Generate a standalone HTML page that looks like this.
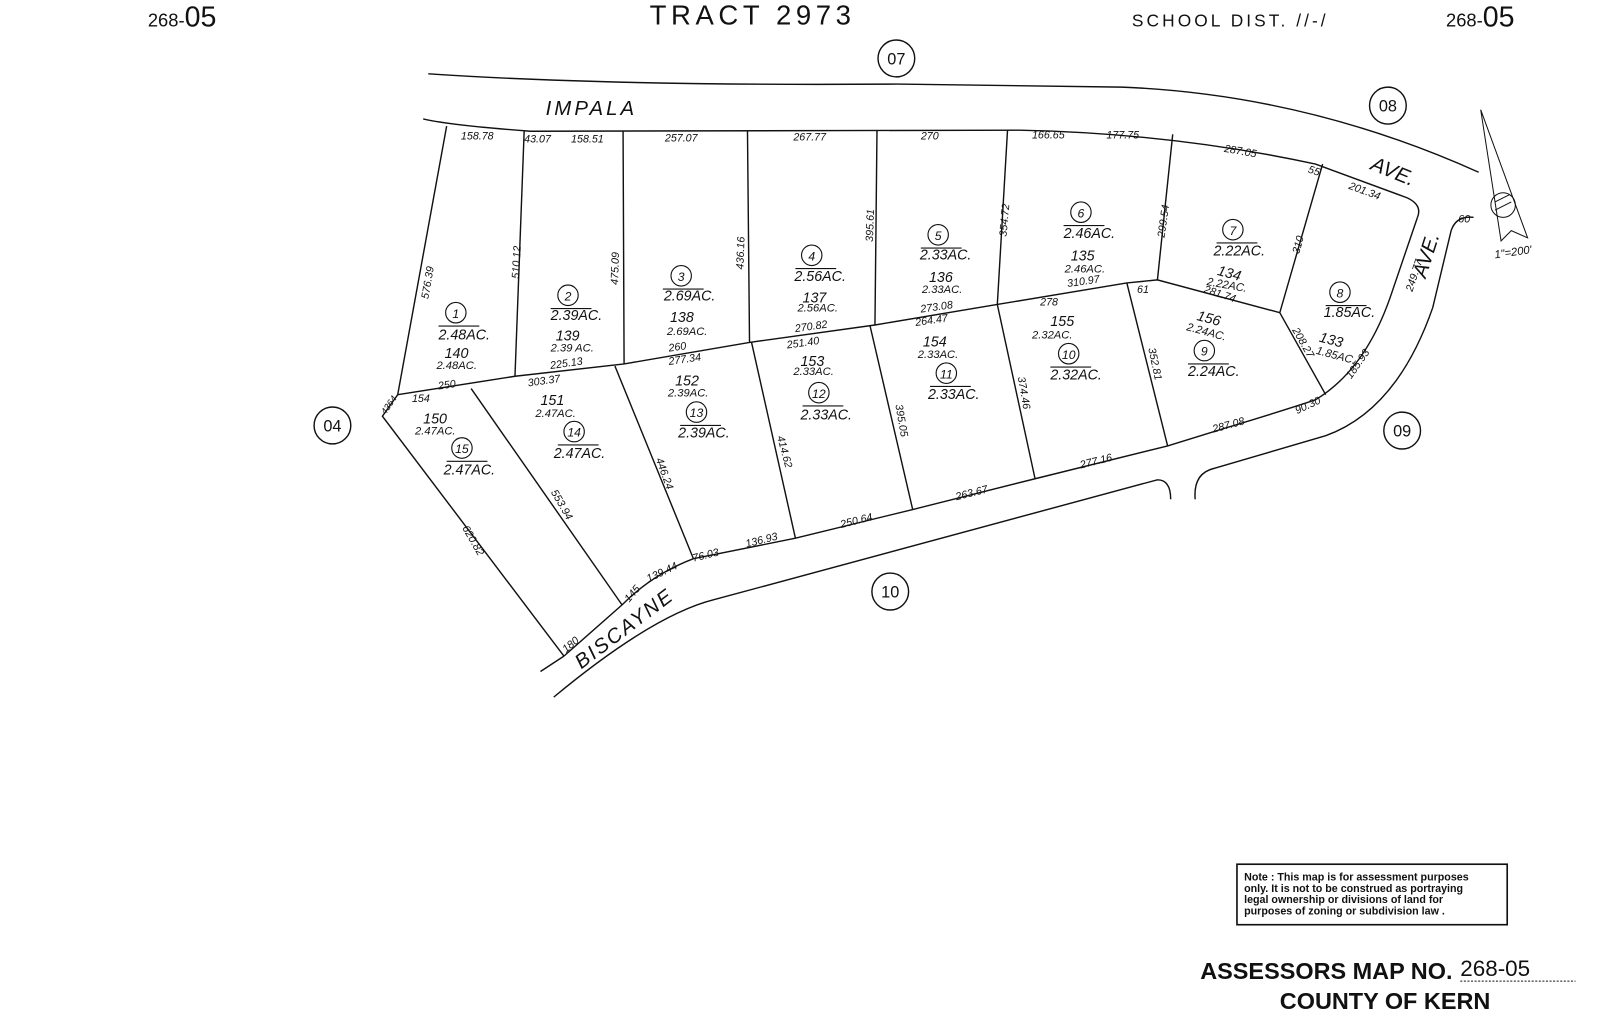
<!DOCTYPE html>
<html><head><meta charset="utf-8"><style>
html,body{margin:0;padding:0;background:#fff}
svg{display:block}
text{font-family:"Liberation Sans",sans-serif;fill:#111}
.d{font-size:10.5px;font-style:italic}
.a{font-size:14px;font-style:italic}
.n{font-size:14px;font-style:italic}
.s{font-size:12px}
</style></head><body>
<svg width="1600" height="1018" viewBox="0 0 1569 993" preserveAspectRatio="none" xmlns="http://www.w3.org/2000/svg">
<g fill="none" stroke="#111" stroke-width="1.4">
<path d="M420,72 Q600,84 880,82 L1100,85 Q1280,92 1450,168"/>
<path d="M415,116 Q440,122 520,128 L1000,127 Q1150,130 1290,160 L1380,193 Q1395,200 1390,212"/>
<path d="M1390,212 L1365,285 Q1340,360 1290,390 Q1260,400 1200,418 L1145,435 L1015,467 L895,497 L780,525 L680,545 Q640,560 610,590 L553,640"/>
<path d="M543,680 Q640,600 700,585 L1135,468 Q1148,468 1148,487"/>
<path d="M1172,487 Q1170,462 1190,457 L1300,425 Q1370,400 1405,300 L1423,225 Q1428,210 1445,212"/>
<path d="M530,655 L553,640"/>
<path d="M438,123 L390,385 L375,406 L553,640"/>
<path d="M390,385 L505,367 L612,355 L735,334 L858,317 L978,297 L1105,276 L1135,273 L1255,305 L1297,160"/>
<path d="M514,128 L505,367 M611,128 L612,355 M733,128 L735,334 M860,127 L858,317 M988,127 L978,297 M1150,131 L1135,273"/>
<path d="M462,379 L610,590 M603,357 L680,545 M737,334 L780,525 M853,317 L895,497 M978,297 L1015,467 M1105,276 L1145,435 M1255,305 L1300,385"/>
<circle cx="879" cy="57" r="18"/><circle cx="1361" cy="103" r="18"/>
<circle cx="326" cy="415" r="18"/><circle cx="1375" cy="420" r="18"/>
<circle cx="873" cy="577" r="18"/>
<g stroke-width="1.1">
<circle cx="447" cy="305" r="10"/><circle cx="557" cy="288" r="10"/><circle cx="668" cy="269" r="10"/>
<circle cx="796" cy="249" r="10"/><circle cx="920" cy="229" r="10"/><circle cx="1060" cy="207" r="10"/>
<circle cx="1209" cy="224" r="10"/><circle cx="1314" cy="285" r="10"/><circle cx="1181" cy="342" r="10"/>
<circle cx="1048" cy="345" r="10"/><circle cx="928" cy="364" r="10"/><circle cx="803" cy="383" r="10"/>
<circle cx="683" cy="402" r="10"/><circle cx="563" cy="421" r="10"/><circle cx="453" cy="437" r="10"/>
<path d="M430,318h40M540,301h40M650,282h40M780,262h40M903,242h40M1043,220h40M1193,237h40M1300,298h40M1165,355h40M1030,358h40M912,377h40M787,396h40M667,415h40M547,434h40M438,450h40"/>
</g>
<path d="M1452,107 L1498,232 L1482,225 L1472,235 Z M1452,107 L1472,235" stroke-width="1"/>
<circle cx="1474" cy="200" r="12" stroke-width="1"/>
<path d="M1466,197 L1480,190 M1466,205 L1482,197" stroke-width="1"/>
<rect x="1213" y="843" width="265" height="59" stroke-width="1.6"/>
<path d="M1432,957 L1545,957" stroke-dasharray="2,1.5" stroke-width="1"/>
</g>
<text x="145" y="26" font-size="18">268-<tspan font-size="28">05</tspan></text>
<text x="637" y="24" font-size="27" letter-spacing="4.5">TRACT 2973</text>
<text x="1110" y="26" font-size="17" letter-spacing="3">SCHOOL DIST. //-/</text>
<text x="1418" y="26" font-size="18">268-<tspan font-size="28">05</tspan></text>
<g font-size="16" text-anchor="middle">
<text x="879" y="63">07</text><text x="1361" y="109">08</text><text x="326" y="421">04</text>
<text x="1375" y="426">09</text><text x="873" y="583">10</text>
</g>
<text x="535" y="112" font-size="20" font-style="italic" letter-spacing="3">IMPALA</text>
<text x="1343" y="165" font-size="20" font-style="italic" transform="rotate(22 1343 165)">AVE.</text>
<text x="1398" y="272" font-size="20" font-style="italic" transform="rotate(-72 1398 272)">AVE.</text>
<text x="570" y="653" font-size="20" font-style="italic" letter-spacing="2" transform="rotate(-37 570 653)">BISCAYNE</text>
<g class="s" text-anchor="middle" font-style="italic">
<text x="447" y="310">1</text><text x="557" y="293">2</text><text x="668" y="274">3</text>
<text x="796" y="254">4</text><text x="920" y="234">5</text><text x="1060" y="212">6</text>
<text x="1209" y="229">7</text><text x="1314" y="290">8</text><text x="1181" y="347">9</text>
<text x="1048" y="350">10</text><text x="928" y="369">11</text><text x="803" y="388">12</text>
<text x="683" y="407">13</text><text x="563" y="426">14</text><text x="453" y="442">15</text>
</g>
<g class="a">
<text x="430" y="331">2.48AC.</text><text x="436" y="349">140</text><text x="428" y="360" font-size="11">2.48AC.</text>
<text x="540" y="312">2.39AC.</text><text x="545" y="332">139</text><text x="540" y="343" font-size="11">2.39 AC.</text>
<text x="651" y="293">2.69AC.</text><text x="657" y="314">138</text><text x="654" y="327" font-size="11">2.69AC.</text>
<text x="779" y="274">2.56AC.</text><text x="787" y="295">137</text><text x="782" y="304" font-size="11">2.56AC.</text>
<text x="902" y="253">2.33AC.</text><text x="911" y="275">136</text><text x="904" y="286" font-size="11">2.33AC.</text>
<text x="1043" y="232">2.46AC.</text><text x="1050" y="254">135</text><text x="1044" y="266" font-size="11">2.46AC.</text>
<text x="1190" y="249">2.22AC.</text><text x="1193" y="268" transform="rotate(15 1193 268)">134</text><text x="1183" y="278" font-size="11" transform="rotate(10 1183 278)">2.22AC.</text>
<text x="1298" y="309">1.85AC.</text><text x="1293" y="333" transform="rotate(15 1293 333)">133</text><text x="1290" y="345" font-size="11" transform="rotate(15 1290 345)">1.85AC.</text>
<text x="1173" y="312" transform="rotate(15 1173 312)">156</text><text x="1163" y="322" font-size="11" transform="rotate(15 1163 322)">2.24AC.</text><text x="1165" y="367">2.24AC.</text>
<text x="1030" y="318">155</text><text x="1012" y="330" font-size="11">2.32AC.</text><text x="1030" y="370">2.32AC.</text>
<text x="905" y="338">154</text><text x="900" y="349" font-size="11">2.33AC.</text><text x="910" y="389">2.33AC.</text>
<text x="785" y="357">153</text><text x="778" y="366" font-size="11">2.33AC.</text><text x="785" y="409">2.33AC.</text>
<text x="662" y="376">152</text><text x="655" y="387" font-size="11">2.39AC.</text><text x="665" y="427">2.39AC.</text>
<text x="530" y="395">151</text><text x="525" y="407" font-size="11">2.47AC.</text><text x="543" y="447">2.47AC.</text>
<text x="415" y="413">150</text><text x="407" y="424" font-size="11">2.47AC.</text><text x="435" y="463">2.47AC.</text>
</g>
<g class="d">
<text x="452" y="136">158.78</text><text x="514" y="139">43.07</text><text x="560" y="139">158.51</text>
<text x="652" y="138">257.07</text><text x="778" y="137">267.77</text><text x="903" y="136">270</text>
<text x="1012" y="135">166.65</text><text x="1085" y="135">177.75</text>
<text x="1200" y="148" transform="rotate(10 1200 148)">287.05</text><text x="1282" y="168" transform="rotate(18 1282 168)">55</text>
<text x="1322" y="184" transform="rotate(20 1322 184)">201.34</text><text x="1430" y="217">60</text>
<text x="1385" y="285" transform="rotate(-72 1385 285)">249.77</text>
<text x="420" y="292" transform="rotate(-80 420 292)">576.39</text>
<text x="509" y="272" transform="rotate(-87 509 272)">510.12</text>
<text x="606" y="278" transform="rotate(-88 606 278)">475.09</text>
<text x="729" y="263" transform="rotate(-88 729 263)">436.16</text>
<text x="856" y="236" transform="rotate(-88 856 236)">395.61</text>
<text x="987" y="231" transform="rotate(-85 987 231)">354.72</text>
<text x="1142" y="232" transform="rotate(-82 1142 232)">299.54</text>
<text x="1274" y="248" transform="rotate(-75 1274 248)">310</text>
<text x="430" y="380" transform="rotate(-8 430 380)">250</text>
<text x="518" y="377" transform="rotate(-8 518 377)">303.37</text>
<text x="540" y="360" transform="rotate(-8 540 360)">225.13</text>
<text x="656" y="343" transform="rotate(-8 656 343)">260</text>
<text x="656" y="356" transform="rotate(-8 656 356)">277.34</text>
<text x="772" y="340" transform="rotate(-8 772 340)">251.40</text>
<text x="780" y="324" transform="rotate(-8 780 324)">270.82</text>
<text x="898" y="318" transform="rotate(-8 898 318)">264.47</text>
<text x="903" y="305" transform="rotate(-8 903 305)">273.08</text>
<text x="1020" y="298">278</text><text x="1047" y="280" transform="rotate(-8 1047 280)">310.97</text>
<text x="1115" y="286">61</text>
<text x="1180" y="285" transform="rotate(18 1180 285)">281.74</text>
<text x="404" y="392">154</text><text x="378" y="405" font-size="9" transform="rotate(-55 378 405)">4364</text>
<text x="453" y="515" transform="rotate(60 453 515)">620.82</text>
<text x="540" y="480" transform="rotate(60 540 480)">553.94</text>
<text x="643" y="448" transform="rotate(70 643 448)">446.24</text>
<text x="762" y="426" transform="rotate(75 762 426)">414.62</text>
<text x="878" y="395" transform="rotate(80 878 395)">395.05</text>
<text x="998" y="368" transform="rotate(80 998 368)">374.46</text>
<text x="1126" y="340" transform="rotate(78 1126 340)">352.81</text>
<text x="1267" y="322" transform="rotate(60 1267 322)">208.27</text>
<text x="1325" y="370" transform="rotate(-55 1325 370)">185.93</text>
<text x="1272" y="404" transform="rotate(-25 1272 404)">90.30</text>
<text x="1190" y="422" transform="rotate(-15 1190 422)">287.08</text>
<text x="1060" y="457" transform="rotate(-14 1060 457)">277.16</text>
<text x="938" y="488" transform="rotate(-14 938 488)">263.67</text>
<text x="825" y="515" transform="rotate(-14 825 515)">250.64</text>
<text x="732" y="534" transform="rotate(-14 732 534)">136.93</text>
<text x="680" y="548" transform="rotate(-14 680 548)">76.03</text>
<text x="636" y="568" transform="rotate(-25 636 568)">139.44</text>
<text x="617" y="588" transform="rotate(-50 617 588)">145</text>
<text x="555" y="637" transform="rotate(-40 555 637)">180</text>
<text x="1466" y="252" font-size="11" transform="rotate(-8 1466 252)">1"=200'</text>
</g>
<g font-size="10.5" font-weight="bold">
<text x="1220" y="859">Note : This map is for assessment purposes</text>
<text x="1220" y="870">only. It is not to be construed as portraying</text>
<text x="1220" y="881">legal ownership or divisions of land for</text>
<text x="1220" y="892">purposes of zoning or subdivision law .</text>
</g>
<text x="1177" y="955" font-size="23" font-weight="bold">ASSESSORS MAP NO.</text>
<text x="1432" y="952" font-size="22">268-05</text>
<text x="1255" y="984" font-size="23" font-weight="bold">COUNTY OF KERN</text>
</svg>
</body></html>
